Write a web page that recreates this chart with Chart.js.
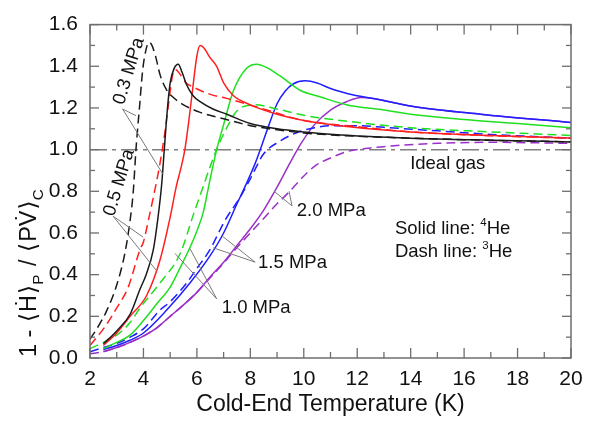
<!DOCTYPE html>
<html><head><meta charset="utf-8">
<script src="https://cdn.jsdelivr.net/npm/chart.js@4/dist/chart.umd.min.js"></script>
<style>html,body{margin:0;padding:0;background:#fff}canvas{display:block}</style>
</head><body><canvas id="c" width="594" height="421"></canvas>
<script>
// ---------- data ----------
const xTicks = [2,4,6,8,10,12,14,16,18,20];
const xMinor = [3,5,7,9,11,13,15,17,19];
const yTicks = [0,0.2,0.4,0.6,0.8,1.0,1.2,1.4,1.6];
const yMinor = [0.1,0.3,0.5,0.7,0.9,1.1,1.3,1.5];

// 0.3 MPa
const T_03_he3 = [2.0,2.3,2.6,3.0,3.3,3.5,3.62,3.72,3.85,3.97,4.08,4.2,4.3,4.45,4.62,4.85,5.12,5.5,6.1,7.1,8.0,9.0,10.0,11.4,14,17,20];
const V_03_he3 = [0.09,0.15,0.22,0.35,0.50,0.66,0.80,1.00,1.20,1.38,1.47,1.515,1.505,1.45,1.36,1.29,1.25,1.215,1.18,1.145,1.115,1.095,1.08,1.068,1.055,1.045,1.037];
const T_03_he4 = [2.5,3.0,3.5,3.87,4.1,4.37,4.55,4.68,4.78,4.9,5.0,5.15,5.3,5.45,5.62,5.85,6.12,6.6,7.12,8.0,9.0,10.0,11.4,14,17,20];
const V_03_he4 = [0.068,0.13,0.21,0.33,0.40,0.52,0.68,0.83,1.00,1.20,1.32,1.39,1.41,1.37,1.31,1.26,1.23,1.195,1.17,1.125,1.10,1.085,1.07,1.055,1.045,1.037];
// 0.5 MPa
const T_05_he3 = [2.0,2.56,3.0,3.43,3.87,4.0,4.2,4.4,4.6,4.8,4.95,5.08,5.2,5.35,5.6,5.87,6.5,7.12,8.36,10.0,12.0,14,17,20];
const V_05_he3 = [0.06,0.15,0.24,0.34,0.52,0.557,0.67,0.79,0.92,1.08,1.23,1.35,1.385,1.365,1.32,1.30,1.265,1.246,1.20,1.14,1.11,1.085,1.067,1.055];
const T_05_he4 = [2.5,3.0,3.5,4.12,4.62,4.99,5.24,5.4,5.55,5.7,5.85,6.0,6.12,6.25,6.5,6.74,7.0,7.36,8.0,9.0,10.0,11.7,14,17,20];
const V_05_he4 = [0.06,0.12,0.20,0.30,0.47,0.67,0.83,0.91,1.00,1.14,1.30,1.45,1.50,1.49,1.44,1.40,1.32,1.26,1.215,1.17,1.14,1.11,1.085,1.068,1.056];
// 1.0 MPa
const T_10_he3 = [2.0,2.5,3.0,3.5,3.87,4.62,5.37,5.9,6.2,6.5,6.8,7.1,7.4,7.7,8.2,9.0,10.0,11.7,14,17,20];
const V_10_he3 = [0.045,0.075,0.11,0.17,0.24,0.36,0.50,0.70,0.81,0.92,1.02,1.10,1.17,1.205,1.215,1.195,1.165,1.135,1.105,1.085,1.068];
const T_10_he4 = [2.5,3.0,3.5,4.0,4.5,5.0,5.4,5.74,6.0,6.24,6.45,6.74,7.0,7.36,7.86,8.24,8.6,9.1,9.86,10.6,11.6,13,14,16,18,20];
const V_10_he4 = [0.045,0.075,0.11,0.18,0.26,0.34,0.44,0.53,0.61,0.70,0.83,1.0,1.12,1.28,1.39,1.41,1.395,1.355,1.285,1.254,1.215,1.19,1.17,1.145,1.125,1.105];
// 1.5 MPa
const T_15_he3 = [2.0,2.5,3.0,3.5,4.0,4.62,5.0,5.62,6.0,6.49,7.05,7.61,8.0,8.5,9.1,9.7,10.4,11.0,12.0,13.0,15,17,20];
const V_15_he3 = [0.03,0.05,0.07,0.10,0.14,0.23,0.27,0.36,0.43,0.52,0.66,0.77,0.86,0.98,1.04,1.08,1.105,1.115,1.115,1.107,1.09,1.073,1.055];
const T_15_he4 = [2.5,3.0,3.5,4.0,4.87,5.74,6.49,7.0,7.5,7.9,8.2,8.4,8.7,9.0,9.3,9.6,10.05,10.5,11.0,11.86,12.6,14.1,16.6,20];
const V_15_he4 = [0.04,0.06,0.085,0.12,0.23,0.36,0.49,0.60,0.74,0.85,0.94,1.01,1.12,1.22,1.28,1.315,1.33,1.32,1.293,1.262,1.245,1.207,1.17,1.13];
// 2.0 MPa
const T_20_he3 = [2.0,2.5,3.0,3.5,4.0,4.5,5.0,5.5,6.0,6.5,7.0,7.5,8.0,8.5,9.0,9.4,9.9,10.4,11.0,11.6,12.5,13.5,15,17,20];
const V_20_he3 = [0.02,0.03,0.05,0.075,0.105,0.145,0.2,0.255,0.315,0.385,0.455,0.53,0.6,0.67,0.74,0.79,0.86,0.92,0.96,0.99,1.008,1.02,1.03,1.035,1.03];
const T_20_he4 = [2.5,3.0,3.5,4.0,4.5,5.0,5.5,6.0,6.5,7.0,7.5,8.0,8.5,9.0,9.5,9.9,10.4,11.0,11.6,12.15,12.6,14.1,16.6,20];
const V_20_he4 = [0.03,0.05,0.075,0.105,0.145,0.2,0.255,0.315,0.39,0.46,0.54,0.62,0.71,0.82,0.94,1.03,1.12,1.19,1.23,1.25,1.245,1.207,1.17,1.13];
// ideal gas reference
const T_ideal = [2,20];
const V_ideal = [1.0,1.0];

// annotations (data coordinates)
const pressureLabels = ['0.3 MPa','0.5 MPa','1.0 MPa','1.5 MPa','2.0 MPa'];
const labelAnchors = [[3.46,1.377],[3.09,0.842],[6.93,0.239],[8.29,0.456],[9.74,0.704]];
const labelRotation = [-73,-73,0,0,0];
const leaderLines = [
  [[3.22,1.195],[3.72,1.163]], [[3.22,1.195],[4.72,0.884]],
  [[2.87,0.68],[3.99,0.58]], [[2.87,0.68],[4.5,0.417]],
  [[6.74,0.284],[5.18,0.502]], [[6.74,0.284],[5.74,0.526]],
  [[8.18,0.46],[6.61,0.529]], [[8.18,0.46],[6.93,0.587]],
  [[9.56,0.73],[8.89,0.80]], [[9.56,0.73],[9.45,0.80]]
];
const idealLabel = ['Ideal gas', 13.98, 0.93];
const legendAnchor = [13.41, 0.628, 0.516];

// ---------- build ----------
const FONT = "'Liberation Sans', Arial, 'DejaVu Sans', sans-serif";
const COLORS = {k:'#1a1a1a', r:'#ff1f1f', g:'#1fe01f', b:'#1f1fff', p:'#9a30c8'};
const DASH = [9,5];
function pts(T,V){ return T.map((t,i)=>({x:t,y:V[i]})); }
function ds(T,V,color,dashed){
  return {data:pts(T,V), borderColor:color, borderWidth:1.5, borderDash: dashed?DASH:[],
          pointRadius:0, fill:false, cubicInterpolationMode:'monotone', order:1};
}
const datasets = [
  ds(T_03_he3,V_03_he3,COLORS.k,true), ds(T_03_he4,V_03_he4,COLORS.k,false),
  ds(T_05_he3,V_05_he3,COLORS.r,true), ds(T_05_he4,V_05_he4,COLORS.r,false),
  ds(T_10_he3,V_10_he3,COLORS.g,true), ds(T_10_he4,V_10_he4,COLORS.g,false),
  ds(T_15_he3,V_15_he3,COLORS.b,true), ds(T_15_he4,V_15_he4,COLORS.b,false),
  ds(T_20_he3,V_20_he3,COLORS.p,true), ds(T_20_he4,V_20_he4,COLORS.p,false),
  {data:pts(T_ideal,V_ideal), borderColor:'#808080', borderWidth:1.5, borderDash:[17,5,4,5],
   pointRadius:0, fill:false, order:5}
];

function fnt(size){ return size+'px '+FONT; }
function drawRich(ctx, segs, base, x, y, align){
  let w = 0;
  for (const s of segs){ ctx.font = fnt(base*(s.s||1)); w += ctx.measureText(s.t).width + (s.gap||0); }
  let cx = align==='center' ? x - w/2 : x;
  for (const s of segs){
    ctx.font = fnt(base*(s.s||1));
    ctx.fillText(s.t, cx, y + (s.dy||0)*base);
    cx += ctx.measureText(s.t).width + (s.gap||0);
  }
}

const decor = {
  id:'decor',
  afterDraw(chart){
    const ctx = chart.ctx, a = chart.chartArea, xs = chart.scales.x, ys = chart.scales.y;
    ctx.save();
    // leader lines
    ctx.strokeStyle = '#7a7a7a'; ctx.lineWidth = 1; ctx.setLineDash([]);
    for (const L of leaderLines){
      ctx.beginPath();
      ctx.moveTo(xs.getPixelForValue(L[0][0]), ys.getPixelForValue(L[0][1]));
      ctx.lineTo(xs.getPixelForValue(L[1][0]), ys.getPixelForValue(L[1][1]));
      ctx.stroke();
    }
    // frame
    ctx.strokeStyle = '#6e6e6e'; ctx.lineWidth = 1.5;
    ctx.strokeRect(a.left, a.top, a.right-a.left, a.bottom-a.top);
    // ticks (inside, all four sides)
    ctx.lineWidth = 1.3;
    const tick = (x1,y1,x2,y2)=>{ctx.beginPath();ctx.moveTo(x1,y1);ctx.lineTo(x2,y2);ctx.stroke();};
    for (const v of xTicks){ const p = xs.getPixelForValue(v); tick(p,a.bottom,p,a.bottom-10); tick(p,a.top,p,a.top+10); }
    for (const v of xMinor){ const p = xs.getPixelForValue(v); tick(p,a.bottom,p,a.bottom-6); tick(p,a.top,p,a.top+6); }
    for (const v of yTicks){ const p = ys.getPixelForValue(v); tick(a.left,p,a.left+9,p); tick(a.right,p,a.right-9,p); }
    for (const v of yMinor){ const p = ys.getPixelForValue(v); tick(a.left,p,a.left+5,p); tick(a.right,p,a.right-5,p); }
    // pressure labels
    ctx.fillStyle = '#111';
    ctx.textBaseline = 'middle';
    pressureLabels.forEach((t,i)=>{
      const px = xs.getPixelForValue(labelAnchors[i][0]), py = ys.getPixelForValue(labelAnchors[i][1]);
      ctx.font = fnt(18.5);
      if (labelRotation[i]){
        ctx.save(); ctx.translate(px,py); ctx.rotate(labelRotation[i]*Math.PI/180);
        ctx.textAlign = 'center'; ctx.fillText(t,0,0); ctx.restore();
      } else { ctx.textAlign = 'left'; ctx.fillText(t,px,py); }
    });
    ctx.textAlign = 'left';
    ctx.font = fnt(18.5);
    ctx.fillText(idealLabel[0], xs.getPixelForValue(idealLabel[1]), ys.getPixelForValue(idealLabel[2]));
    // legend text
    ctx.textBaseline = 'alphabetic';
    const lx = xs.getPixelForValue(legendAnchor[0]);
    drawRich(ctx,[{t:'Solid line: '},{t:'4',s:0.62,dy:-0.42},{t:'He'}],18.5,lx,ys.getPixelForValue(legendAnchor[1])+6.5,'left');
    drawRich(ctx,[{t:'Dash line: '},{t:'3',s:0.62,dy:-0.42},{t:'He'}],18.5,lx,ys.getPixelForValue(legendAnchor[2])+6.5,'left');
    // axis titles
    drawRich(ctx,[{t:'Cold-End Temperature (K)'}],23,(a.left+a.right)/2,411,'center');
    ctx.save(); ctx.translate(36, a.bottom - 1); ctx.rotate(-Math.PI/2);
    drawRich(ctx,[{t:'1 - ',gap:1},{t:'\u27E8',gap:1},{t:'H\u0307',gap:1},{t:'\u27E9'},{t:'P',s:0.65,dy:0.3,gap:2},
                  {t:' / ',gap:1},{t:'\u27E8',gap:1},{t:'PV\u0307',gap:1},{t:'\u27E9'},{t:'C',s:0.65,dy:0.3}],23.5,0,0,'left');
    ctx.restore();
    ctx.restore();
  }
};

new Chart(document.getElementById('c'), {
  type:'line',
  data:{datasets},
  options:{
    responsive:false, animation:false, devicePixelRatio:1,
    layout:{padding:{top:14,right:23,left:0,bottom:0}},
    plugins:{legend:{display:false}, tooltip:{enabled:false}},
    scales:{
      x:{type:'linear', min:2, max:20,
         afterBuildTicks(s){ s.ticks = xTicks.map(v=>({value:v})); },
         ticks:{font:{family:FONT,size:21}, color:'#111', padding:9, maxRotation:0, autoSkip:false},
         grid:{display:false, drawTicks:false}, border:{display:false},
         afterFit(s){ s.height = 63; }},
      y:{type:'linear', min:0, max:1.6,
         afterBuildTicks(s){ s.ticks = yTicks.map(v=>({value:v})); },
         ticks:{font:{family:FONT,size:21}, color:'#111', padding:12, autoSkip:false, callback:v=>Number(v).toFixed(1)},
         grid:{display:false, drawTicks:false}, border:{display:false},
         afterFit(s){ s.width = 90; }}
    }
  },
  plugins:[decor]
});
</script></body></html>
